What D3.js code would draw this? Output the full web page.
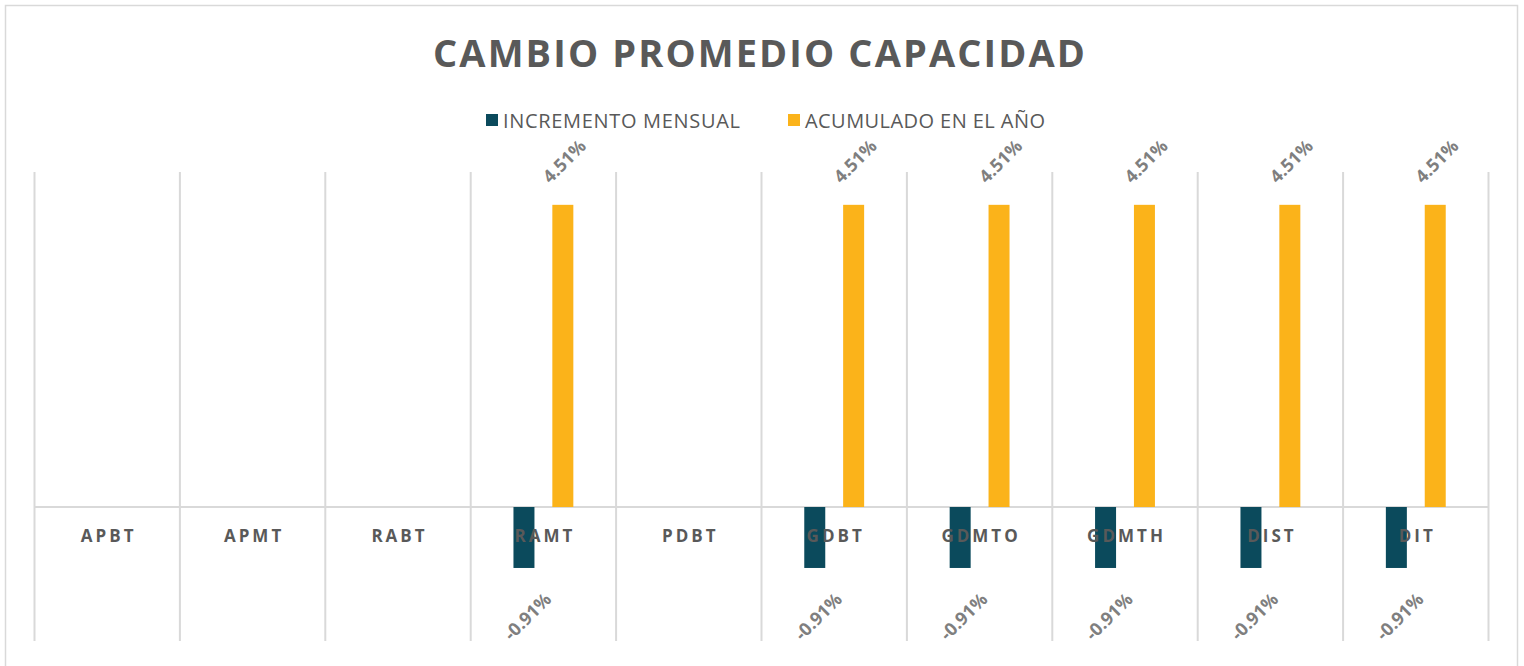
<!DOCTYPE html>
<html>
<head>
<meta charset="utf-8">
<script src="https://cdn.jsdelivr.net/npm/d3@7/dist/d3.min.js"></script>
<style>
  html, body { margin: 0; padding: 0; background: #fff; }
  svg { display: block; }
</style>
</head>
<body>
<svg id="chart" width="1524" height="666"></svg>
<script>
const title = "CAMBIO PROMEDIO CAPACIDAD";
const categories = ["APBT", "APMT", "RABT", "RAMT", "PDBT", "GDBT", "GDMTO", "GDMTH", "DIST", "DIT"];
const seriesNames = ["INCREMENTO MENSUAL", "ACUMULADO EN EL AÑO"];
const incrementoMensual = [null, null, null, -0.0091, null, -0.0091, -0.0091, -0.0091, -0.0091, -0.0091];
const acumuladoAnio = [null, null, null, 0.0451, null, 0.0451, 0.0451, 0.0451, 0.0451, 0.0451];
const valueDomain = [-0.02, 0.05];
const colors = ["#0b4a5c", "#fbb31a"];

const svg = d3.select("#chart");
const W = 1524, H = 666;
const plot = { left: 34.5, right: 1488.5, top: 172, bottom: 641 };

svg.append("rect").attr("x", 0).attr("y", 0).attr("width", W).attr("height", H).attr("fill", "#fff");
svg.append("rect").attr("x", 5.5).attr("y", 5.5).attr("width", 1512).attr("height", 670)
  .attr("fill", "none").attr("stroke", "#d9d9d9").attr("stroke-width", 1.5);

// Title
svg.append("text")
  .attr("x", 759).attr("y", 67)
  .attr("text-anchor", "middle")
  .attr("font-family", "'Open Sans', sans-serif")
  .attr("font-weight", "bold")
  .attr("font-size", 38)
  .attr("fill", "#595959")
  .attr("textLength", 652)
  .text(title);

// Legend
const legendItems = [
  { name: seriesNames[0], color: colors[0], x: 486, w: 237 },
  { name: seriesNames[1], color: colors[1], x: 788, w: 240 }
];
const lg = svg.append("g");
legendItems.forEach(it => {
  lg.append("rect").attr("x", it.x).attr("y", 114).attr("width", 12).attr("height", 12).attr("fill", it.color);
  lg.append("text").attr("x", it.x + 17).attr("y", 128)
    .attr("font-family", "'Open Sans', sans-serif")
    .attr("font-size", 20)
    .attr("fill", "#595959")
    .attr("textLength", it.w)
    .text(it.name);
});

// Scales
const x0 = d3.scaleBand().domain(categories).range([plot.left, plot.right]).paddingInner(0).paddingOuter(0);
const x1 = d3.scaleBand().domain(seriesNames).range([0, x0.bandwidth()]).paddingInner(0.46).paddingOuter(1.1);
const y = d3.scaleLinear().domain(valueDomain).range([plot.bottom, plot.top]);

// Vertical gridlines at category boundaries
const bounds = categories.map(c => x0(c)).concat([x0(categories[categories.length - 1]) + x0.bandwidth()]);
svg.append("g").selectAll("line").data(bounds).join("line")
  .attr("x1", d => d).attr("x2", d => d)
  .attr("y1", plot.top).attr("y2", plot.bottom)
  .attr("stroke", "#d9d9d9").attr("stroke-width", 2);

// Zero axis line
svg.append("line")
  .attr("x1", plot.left).attr("x2", plot.right)
  .attr("y1", y(0)).attr("y2", y(0))
  .attr("stroke", "#d9d9d9").attr("stroke-width", 2);

// Bars
const seriesData = [incrementoMensual, acumuladoAnio];
const barData = [];
seriesData.forEach((vals, si) => {
  vals.forEach((v, i) => {
    if (v !== null) barData.push({ cat: categories[i], series: seriesNames[si], v, color: colors[si] });
  });
});

svg.append("g").selectAll("rect").data(barData).join("rect")
  .attr("x", d => x0(d.cat) + x1(d.series))
  .attr("width", x1.bandwidth())
  .attr("y", d => y(Math.max(0, d.v)))
  .attr("height", d => Math.abs(y(d.v) - y(0)))
  .attr("fill", d => d.color);

// Category labels (drawn over the bars, as in the reference)
svg.append("g").selectAll("text").data(categories).join("text")
  .attr("x", d => x0(d) + x0.bandwidth() / 2 + 1.5)
  .attr("y", 542)
  .attr("text-anchor", "middle")
  .attr("font-family", "'Open Sans', sans-serif")
  .attr("font-weight", "bold")
  .attr("font-size", 17)
  .attr("letter-spacing", 3)
  .attr("fill", "#595959")
  .text(d => d);

// Data labels
const pct = d3.formatLocale({ decimal: ".", thousands: ",", grouping: [3], currency: ["", ""], minus: "-" }).format(".2%");
svg.append("g").selectAll("text").data(barData).join("text")
  .attr("transform", d => {
    const cx = x0(d.cat) + x1(d.series) + x1.bandwidth() / 2;
    const cy = d.v >= 0 ? y(d.v) - 44 : y(d.v) + 48;
    return `translate(${cx + (d.v >= 0 ? 1 : 3)},${cy}) rotate(-45)`;
  })
  .attr("text-anchor", "middle")
  .attr("dominant-baseline", "central")
  .attr("font-family", "'Open Sans', sans-serif")
  .attr("font-weight", "bold")
  .attr("font-size", 18)
  .attr("fill", "#7f7f7f")
  .text(d => pct(d.v));
</script>
</body>
</html>
